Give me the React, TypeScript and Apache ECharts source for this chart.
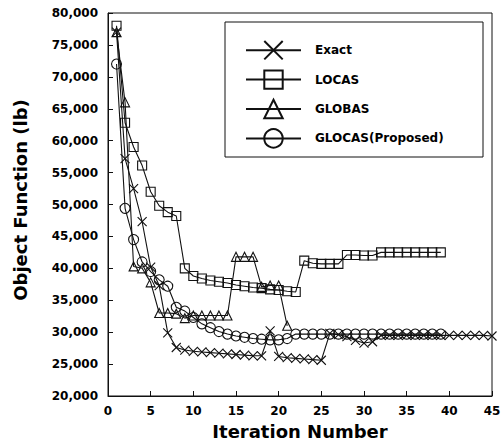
import React, { useEffect, useRef } from "react";
import * as echarts from "echarts";

const xTicks = { min: 0, max: 45, interval: 5 };
const yTicks = { min: 20000, max: 80000, interval: 5000 };

const exactValues = [
  77000, 57200, 52500, 47300, 40200, 37300, 29900, 27600, 27200, 27000,
  26900, 26800, 26700, 26600, 26500, 26400, 26300, 26300, 30200, 26200,
  26000, 25900, 25800, 25700, 25600, 29800, 29600, 29300, 28700, 28300,
  28500, 29500, 29500, 29500, 29500, 29500, 29500, 29500, 29500, 29500,
  29500, 29500, 29500, 29500, 29400,
];
const locasValues = [
  78000, 62800, 59000, 56100, 52000, 49800, 48800, 48200, 40000, 38800,
  38400, 38100, 37900, 37700, 37400, 37200, 37000, 36900, 36700, 36600,
  36400, 36300, 41200, 40800, 40700, 40700, 40700, 42100, 42100, 42000,
  42000, 42500, 42500, 42500, 42500, 42500, 42500, 42500, 42500,
];
const globasValues = [
  77000, 66000, 40300, 40000, 37800, 33000, 33000, 32900, 32200, 32600,
  32600, 32600, 32600, 32600, 41800, 41800, 41800, 37100, 37300, 37300,
  31000,
];
const glocasValues = [
  72000, 49400, 44500, 41000, 39500, 38200, 37200, 33900, 33300, 32300,
  31300, 30700, 30100, 29700, 29400, 29200, 29000, 28900, 28800, 28800,
  29000, 29700, 29700, 29700, 29700, 29700, 29700, 29700, 29700, 29700,
  29700, 29700, 29700, 29700, 29700, 29700, 29700, 29700, 29700,
];
const seriesNames = ["Exact", "LOCAS", "GLOBAS", "GLOCAS(Proposed)"];

const toPairs = (vals: number[]) => vals.map((v, i) => [i + 1, v]);

const FONT = "DejaVu Sans";
const INK = "#111";

export default function App() {
  const ref = useRef<HTMLDivElement>(null);
  useEffect(() => {
    if (!ref.current) return;
    const chart = echarts.init(ref.current, undefined, { renderer: "svg" });
    const mk = (name: string, vals: number[], symbol: string, size: number) => ({
      name,
      type: "line",
      data: toPairs(vals),
      symbol,
      symbolSize: size,
      showAllSymbol: true,
      lineStyle: { color: INK, width: 1.1 },
      itemStyle: { color: "transparent", borderColor: INK, borderWidth: 1.1 },
      emphasis: { disabled: true },
    });
    chart.setOption({
      animation: false,
      backgroundColor: "#fff",
      grid: {
        left: 108,
        top: 13,
        right: 12,
        bottom: 46,
        show: true,
        borderColor: INK,
        borderWidth: 1,
      },
      xAxis: {
        type: "value",
        ...xTicks,
        axisLine: { show: true, lineStyle: { color: INK, width: 1 } },
        axisTick: { show: true, inside: true, length: 5, lineStyle: { color: INK } },
        splitLine: { show: false },
        axisLabel: {
          color: "#000",
          fontFamily: FONT,
          fontWeight: "bold",
          fontSize: 12,
          margin: 9,
        },
      },
      yAxis: {
        type: "value",
        ...yTicks,
        axisLine: { show: true, lineStyle: { color: INK, width: 1 } },
        axisTick: { show: true, inside: true, length: 5, lineStyle: { color: INK } },
        splitLine: { show: false },
        axisLabel: {
          color: "#000",
          fontFamily: FONT,
          fontWeight: "bold",
          fontSize: 12,
          margin: 10,
          formatter: (v: number) => v.toLocaleString("en-US"),
        },
      },
      legend: {
        data: seriesNames,
        orient: "vertical",
        left: 240,
        top: 35,
        itemWidth: 55,
        itemHeight: 23,
        itemGap: 9,
        selectedMode: false,
        textStyle: {
          color: "#000",
          fontFamily: FONT,
          fontWeight: "bold",
          fontSize: 12,
          padding: [0, 0, 0, 9],
        },
      },
      graphic: [
        {
          type: "rect",
          shape: { x: 225, y: 22, width: 258, height: 135 },
          style: { fill: "transparent", stroke: INK, lineWidth: 1 },
          z: 10,
        },
        {
          type: "text",
          x: 300,
          y: 431,
          style: {
            text: "Iteration Number",
            fill: "#000",
            font: `bold 18px "${FONT}"`,
            textAlign: "center",
            textVerticalAlign: "middle",
          },
        },
        {
          type: "text",
          x: 20,
          y: 200,
          rotation: Math.PI / 2,
          style: {
            text: "Object Function (lb)",
            fill: "#000",
            font: `bold 18px "${FONT}"`,
            textAlign: "center",
            textVerticalAlign: "middle",
          },
        },
      ],
      series: [
        mk(seriesNames[0], exactValues, "path://M0,0L10,10M10,0L0,10", 9),
        mk(seriesNames[1], locasValues, "rect", 9),
        mk(seriesNames[2], globasValues, "triangle", 9),
        mk(seriesNames[3], glocasValues, "circle", 10),
      ],
    });
    return () => chart.dispose();
  }, []);
  return (
    <div
      ref={ref}
      style={{ position: "fixed", left: 0, top: 0, width: 504, height: 442, background: "#fff" }}
    />
  );
}
